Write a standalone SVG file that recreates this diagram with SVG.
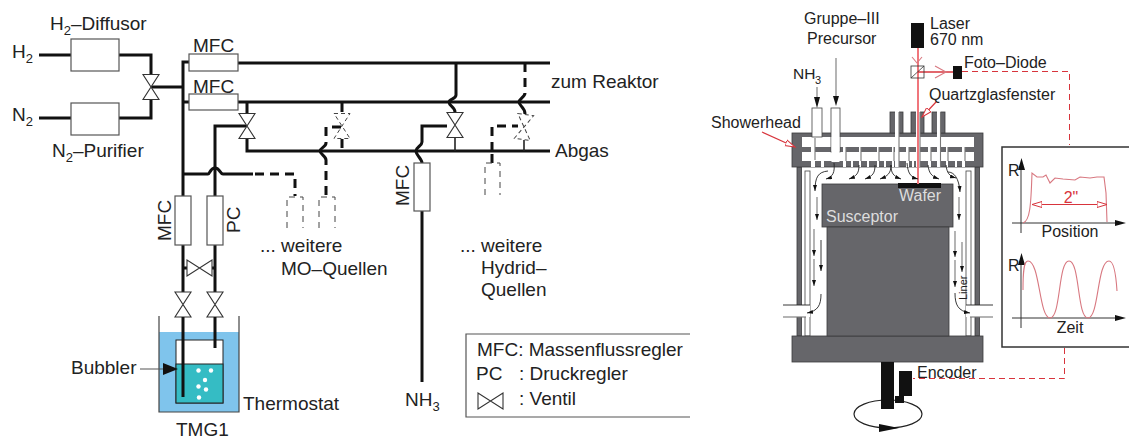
<svg xmlns="http://www.w3.org/2000/svg" width="1129" height="438" viewBox="0 0 1129 438">
<defs>
<marker id="ahs" markerUnits="userSpaceOnUse" markerWidth="8" markerHeight="5" refX="6" refY="2" orient="auto"><path d="M0 0L6 2L0 4Z" fill="#111"/></marker>
<marker id="ao" markerUnits="userSpaceOnUse" markerWidth="13" markerHeight="9" refX="10" refY="4" orient="auto-start-reverse"><path d="M0 1L10 4L0 7Z" fill="#fff" stroke="#d8343c" stroke-width="1"/></marker>
<g id="v"><path class="th" d="M-8 -12.500H8L-8 12.500H8Z"/></g>
<g id="vd"><path class="dt" d="M-8 -12.500H8L-8 12.500H8Z"/></g>
</defs>
<style>
text{font-family:"Liberation Sans",Arial,sans-serif;font-size:19px;fill:#222}
.s{font-size:16px}
.m{text-anchor:middle}
.p{fill:none;stroke:#111;stroke-width:3}
.pd{fill:none;stroke:#111;stroke-width:3;stroke-dasharray:9 6}
.pt{fill:none;stroke:#222;stroke-width:1.6}
.b{fill:#fff;stroke:#555;stroke-width:1.2}
.bd{fill:none;stroke:#444;stroke-width:1;stroke-dasharray:6 5}
.th{fill:#fff;stroke:#333;stroke-width:1.1}
.dt{fill:none;stroke:#444;stroke-width:1;stroke-dasharray:4 3}
.g{fill:#66666a;stroke:#3a3a3c;stroke-width:.8}
.w{fill:#fff;stroke:#444;stroke-width:.8}
.sl{fill:#fff;stroke:none}
.f{fill:none;stroke:#222;stroke-width:.9}
.fg{fill:none;stroke:#777;stroke-width:1.1}
.r{fill:none;stroke:#d8343c;stroke-width:1.2}
.rd{fill:none;stroke:#d8343c;stroke-width:1;stroke-dasharray:6 4}
.cv{fill:none;stroke:#d87880;stroke-width:1.1}
</style>

<g id="connectors">
<path class="p" d="M39 55H72M119 55H151V75M39 118H72M119 118H151V99M151 87H183"/>
<path class="p" d="M189 62H183V196M189 102H183M238 63H550M238 102H550"/>
<path class="p" d="M183 174H208C210 174 210 168 215 168C220 168 220 174 223 174H253"/>
<path class="pd" d="M255 174H295V196"/>
<path class="p" d="M215 196V126H247M247 102V113M247 138V151H550"/>
<path class="pd" d="M326 195V160"/>
<path class="p" d="M456 63V95C456 99 449 99 449 102C449 106 455 107 455 112"/>
<path class="pd" d="M525 63V93"/>
<path class="p" d="M525 93C525 97 519 99 519 102C519 106 525 107 525 114"/>
<path class="pd" d="M342 103V113M342 139V148M341 127H326V143"/>
<path class="p" d="M326 143C326 147 320 148 320 151C320 154 326 156 326 160"/>
<path class="p" d="M422 163C422 159 416 155 416 151C416 147 422 146 422 142V126H447"/>
<path class="pt" d="M455 138V151"/>
<path class="p" d="M422 211V382"/>
<path class="pd" d="M492 151V126H518M492 154V163"/>
<path class="pt" d="M524 140V151"/>
<path class="p" d="M183 245V292M215 245V292"/>
<path class="p" d="M183 268H188M211 268H215"/>
</g>

<g id="h2-diffusor"><rect class="b" x="71" y="39" width="48" height="32"/><text x="50" y="30">H<tspan style="font-size:13px" dy="5">2</tspan><tspan dy="-5">–Diffusor</tspan></text></g>
<g id="n2-purifier"><rect class="b" x="71" y="103" width="48" height="32"/><text x="52" y="157">N<tspan style="font-size:13px" dy="5">2</tspan><tspan dy="-5">–Purifier</tspan></text></g>
<text x="12" y="58">H<tspan style="font-size:13px" dy="5">2</tspan></text>
<text x="12" y="121">N<tspan style="font-size:13px" dy="5">2</tspan></text>
<use href="#v" x="151" y="87"/>

<g id="mfc-1"><rect class="b" x="189" y="54" width="49" height="17"/><text x="193" y="52">MFC</text></g>
<g id="mfc-2"><rect class="b" x="189" y="94" width="49" height="16"/><text x="193" y="93">MFC</text></g>
<use href="#v" x="247" y="126"/>
<use href="#vd" x="342" y="126"/>
<use href="#v" x="455" y="125"/>
<use href="#vd" transform="translate(524,127) rotate(8)"/>

<text x="551" y="88">zum Reaktor</text>
<text x="555" y="157">Abgas</text>

<g id="mfc-3"><rect class="b" x="414" y="163" width="16" height="48"/><text transform="translate(409,206) rotate(-90)">MFC</text></g>
<g id="mfc-4"><rect class="b" x="175" y="196" width="16" height="49"/><text transform="translate(171,241) rotate(-90)">MFC</text></g>
<g id="pc"><rect class="b" x="207" y="196" width="16" height="49"/><text transform="translate(240,233) rotate(-90)">PC</text></g>
<g id="src-a"><path class="bd" d="M287 228V197H303V228"/></g>
<g id="src-b"><path class="bd" d="M319 228V197H335V228"/></g>
<g id="src-c"><path class="bd" d="M485 195V163H500V195"/></g>
<text x="260" y="252">... weitere</text>
<text x="281" y="275">MO–Quellen</text>
<text x="460" y="252">... weitere</text>
<text x="481" y="274">Hydrid–</text>
<text x="481" y="296">Quellen</text>
<text x="405" y="406">NH<tspan style="font-size:13px" dy="5">3</tspan></text>

<use href="#v" transform="translate(199.500,268) rotate(90)"/>
<use href="#v" x="183" y="304.500"/>
<use href="#v" x="215" y="304.500"/>

<g id="bubbler">
<rect x="159" y="332" width="80" height="80" fill="#7fc4ec"/>
<path d="M159 316V412H239V316" fill="none" stroke="#444" stroke-width="1.2"/>
<rect x="176" y="340" width="47" height="63" fill="#fff" stroke="#222" stroke-width="1"/>
<rect x="176" y="364" width="47" height="39" fill="#35bcc4" stroke="#222" stroke-width="1"/>
<g fill="#fff"><circle cx="198.500" cy="370.500" r="2.200"/><circle cx="211" cy="370.500" r="2.200"/><circle cx="205" cy="380" r="2.200"/><circle cx="198.500" cy="386.500" r="2.200"/><circle cx="206" cy="389.500" r="2.200"/><circle cx="199" cy="397.500" r="2.200"/></g>
<path class="p" d="M183 317V397M215 317V348"/>
<path d="M140 369H176" stroke="#555" stroke-width="1.2" fill="none"/><path d="M163 363L178 369L163 375Z" fill="#111"/>
<text x="71" y="374">Bubbler</text>
<text x="243" y="410">Thermostat</text>
<text x="176" y="436">TMG1</text>
</g>

<g id="legend">
<path d="M690 334H466V417H690" fill="#fff" stroke="#555" stroke-width="1.2"/>
<text x="477" y="356">MFC: Massenflussregler</text>
<text x="476" y="380">PC</text><text x="519" y="380">: Druckregler</text>
<path class="th" style="fill:none" d="M478 393V409L503 393V409Z"/>
<text x="519" y="405">: Ventil</text>
</g>

<g id="reactor">
<rect class="g" x="797" y="167" width="4.500" height="169"/>
<rect class="g" x="975" y="167" width="4.500" height="169"/>
<rect class="w" x="805" y="171" width="5" height="165"/>
<rect class="w" x="966" y="171" width="5" height="165"/>
<rect class="g" x="792" y="133" width="191" height="34"/>
<rect class="sl" x="802" y="137" width="172" height="10"/>
<rect class="sl" x="802" y="152" width="172" height="9"/>
<path class="sl" d="M811 147h4v5h-4zM843 147h3v5h-3zM859 147h2v5h-2zM877 147h2v5h-2zM892 147h2v5h-2zM906 147h3v5h-3zM928 147h3v5h-3zM946 147h2v5h-2zM962 147h3v5h-3z"/>
<path class="sl" d="M811 161h4v6h-4zM821 161h3v6h-3zM843 161h3v6h-3zM851 161h2v6h-2zM859 161h2v6h-2zM867 161h2v6h-2zM877 161h2v6h-2zM884 161h2v6h-2zM892 161h2v6h-2zM906 161h3v6h-3zM912 161h2v6h-2zM928 161h3v6h-3zM946 161h2v6h-2zM955 161h2v6h-2zM962 161h3v6h-3z"/>
<path class="fg" stroke-width=".8" d="M815 138V160M846 147V161M861 147V161M879 147V161M894 147V161M909 147V161M931 147V161M948 147V161M965 147V161"/>
<rect x="890" y="112" width="13" height="21" class="g"/><rect x="911" y="112" width="13" height="21" class="g"/><rect x="932" y="112" width="13" height="21" class="g"/>
<rect class="sl" x="895" y="111" width="4" height="56"/><rect class="sl" x="916" y="111" width="4" height="56"/><rect class="sl" x="937" y="111" width="3.500" height="56"/>
<path class="fg" stroke-width=".8" d="M899 112V167M920 112V167M940.500 112V167"/>
<rect class="g" x="792" y="336" width="191" height="26"/>
<rect class="g" x="822" y="184" width="131" height="43"/>
<rect class="g" x="827" y="227" width="122" height="109"/>
<rect class="w" x="812" y="108" width="10" height="29"/>
<rect class="w" x="831" y="108" width="9" height="44"/>
<rect class="sl" x="831.500" y="137" width="8" height="25"/>
<rect x="898" y="183" width="43" height="5" fill="#111"/>

<path d="M918 48V184" stroke="#f0767c" stroke-width="2" fill="none"/>
<path d="M912 57L917 63L922 57" class="cv" stroke="#e05a60"/>
<path d="M918 72H953" stroke="#d8343c" stroke-width="1.400"/>
<path d="M935 66L946 72L935 78" class="cv" stroke="#e05a60"/>
<rect x="911" y="66" width="13" height="12" fill="none" stroke="#333" stroke-width=".8"/>
<path d="M911 78L924 66" stroke="#333" stroke-width=".8"/>
<rect x="911" y="23" width="13" height="25" fill="#111"/>
<rect x="953" y="66" width="9" height="13" fill="#111"/>

<ellipse cx="888" cy="414" rx="34" ry="14" fill="none" stroke="#222" stroke-width="1.200"/>
<path d="M879 424L899 428L879 432Z" fill="#111"/>
<rect x="881" y="362" width="13" height="47" fill="#111"/>
<path d="M899 371h13v25h-13zM895 396h9v7h-9z" fill="#111"/>

<path class="fg" d="M817 87V100"/><path d="M814 97L817 108L820 97Z" fill="#111"/>
<path class="fg" d="M836 58V100"/><path d="M833 96L836 106L839 96Z" fill="#111"/>
<path class="r" marker-end="url(#ao)" d="M762 132L795 147"/>
<path class="r" marker-end="url(#ao)" d="M936 102L922 117"/>

<path class="f" marker-end="url(#ahs)" d="M828 171C818 172 815 177 815 191"/>
<path class="f" marker-end="url(#ahs)" d="M834 163C835 172 833 177 826 179"/>
<path class="f" marker-end="url(#ahs)" d="M859 165C859 173 857 176 849 179"/>
<path class="f" marker-end="url(#ahs)" d="M875 165C875 173 873 176 865 179"/>
<path class="f" marker-end="url(#ahs)" d="M891 165C891 173 888 176 880 179"/>
<path class="f" marker-end="url(#ahs)" d="M891 165C891 173 893 176 901 179"/>
<path class="f" marker-end="url(#ahs)" d="M907 163C908 173 910 177 918 179"/>
<path class="f" marker-end="url(#ahs)" d="M928 165C929 173 931 176 939 179"/>
<path class="f" marker-end="url(#ahs)" d="M946 165C947 173 949 176 956 178"/>
<path class="f" marker-end="url(#ahs)" d="M948 172C954 172 959 178 960 192"/>
<path class="fg" marker-end="url(#ahs)" d="M817 197V220"/>
<path class="fg" marker-end="url(#ahs)" d="M814 229V256"/>
<path class="f" marker-end="url(#ahs)" d="M821 240V271"/>
<path class="fg" marker-end="url(#ahs)" d="M814 259V286"/>
<path class="fg" marker-end="url(#ahs)" d="M959 197V220"/>
<path class="fg" marker-end="url(#ahs)" d="M955 231V257"/>
<path class="fg" marker-end="url(#ahs)" d="M962 242V272"/>
<path class="fg" marker-end="url(#ahs)" d="M955 260V287"/>

<rect class="sl" x="783" y="305" width="27" height="12"/>
<rect class="sl" x="966" y="305" width="27" height="12"/>
<path class="f" d="M783 305H810"/><path class="fg" d="M783 317H806"/>
<path class="f" d="M966 305H993"/><path class="fg" d="M970 317H993"/>
<path class="f" marker-end="url(#ahs)" d="M821 294C821 305 818 311 807 313"/>
<path class="f" marker-end="url(#ahs)" d="M955 293C955 305 958 311 970 313"/>

<text x="826" y="222" class="s" style="fill:#ddd">Susceptor</text>
<text x="899" y="201" class="s" style="fill:#ddd">Wafer</text>
<text x="711" y="128" class="s">Showerhead</text>
<text x="804" y="24" class="s">Gruppe–III</text>
<text x="807" y="44" class="s">Precursor</text>
<text x="793" y="79" style="font-size:15.500px">NH</text><text x="815" y="84" style="font-size:11px">3</text>
<text x="930" y="29" class="s">Laser</text>
<text x="930" y="45" class="s">670 nm</text>
<text x="964" y="68" class="s">Foto–Diode</text>
<text x="929" y="100" class="s">Quartzglasfenster</text>
<text x="917" y="378" class="s">Encoder</text>
<text transform="translate(967,300) rotate(-90)" style="font-size:11px">Liner</text>
</g>

<g id="graphs">
<rect x="1002" y="147" width="140" height="200" fill="#fff" stroke="#333" stroke-width="1.500"/>
<path class="rd" d="M962 71.500H1069.500V145M1064.500 348V378.500H913"/>
<text x="1008" y="176" class="s">R</text><text x="1008" y="271" class="s">R</text>
<path d="M1021 233V165M1021 328V260M1012 223H1118M1012 318H1118" stroke="#333" fill="none"/>
<path d="M1018 170L1021.500 158L1025 170ZM1018 265L1021.500 253L1025 265ZM1115 220L1126 223L1115 226ZM1115 315L1126 318L1115 321Z" fill="#111"/>
<path class="cv" d="M1023 223C1030 221 1031 205 1032 173L1037 177L1043 177L1046 175L1050 183L1055 178L1063 179L1075 180L1080 177L1090 178L1097 177L1104 177L1106 193L1107 222"/>
<path class="r" marker-start="url(#ao)" marker-end="url(#ao)" d="M1032 204.500H1107"/>
<text x="1071" y="203" class="m s" style="fill:#d8343c">2"</text>
<text x="1070" y="237" class="m s">Position</text>
<text x="1070" y="333" class="m s">Zeit</text>
<path class="cv" d="M1023 290C1023 270 1024 261 1028 261C1040 261 1039 318 1050 318C1061 318 1058 261 1069 261C1080 261 1077 318 1088 318C1099 318 1097 261 1109 261C1114 261 1116 275 1117 291"/>
</g>
</svg>
